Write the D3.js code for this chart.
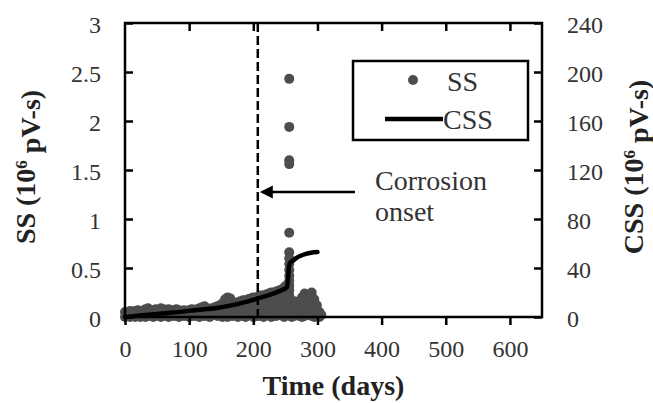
<!DOCTYPE html>
<html>
<head>
<meta charset="utf-8">
<script src="https://cdn.jsdelivr.net/npm/d3@7"></script>
<style>
  html, body { margin: 0; padding: 0; background: #fff; }
  svg text { font-family: "Liberation Serif", "Times New Roman", Times, serif; }
</style>
</head>
<body>
<svg id="chart" width="653" height="403"></svg>
<script>
// Time axis and signal axes
const timeTicks = [0, 100, 200, 300, 400, 500, 600];
const ssTicks = [0, 0.5, 1, 1.5, 2, 2.5, 3];
const cssTicks = [0, 40, 80, 120, 160, 200, 240];
const onsetDay = 207;

// Signal strength readings (day, SS in 10^6 pV-s)
const ssDay = [
  0,0, 4,4, 8,8, 12,12, 16,16, 20,20, 24,24, 28,28, 32,32, 36,36,
  40,40, 44,44, 48,48, 52,52, 56,56, 60,60, 64,64, 68,68, 72,72, 76,76,
  80,80, 84,84, 88,88, 92,92, 96,96, 100,100, 104,104, 108,108, 112,112, 116,116,
  120,120, 124,124, 128,128, 132,132, 136,136, 140,140, 144,144, 148,148,
  152,152,152, 156,156,156, 160,160,160,160, 164,164,164, 168,168,168, 172,172,172,
  176,176,176,176, 180,180,180,180, 184,184,184,184, 188,188,188,188,
  192,192,192,192, 196,196,196,196, 200,200,200,200,200, 204,204,204,204,204,
  208,208,208,208,208, 212,212,212,212,212, 216,216,216,216,216, 220,220,220,220,220,
  224,224,224,224,224, 228,228,228,228,228,228, 232,232,232,232,232,
  236,236,236,236,236,236, 240,240,240,240,240,240, 244,244,244,244,244,244,
  248,248,248,248,248,248,248, 251,251,251,251,251,251,
  256,256,256,256,256,256,256,256,256,256,256,256,256,256,256,256,256,256,
  260,260,260,260, 264,264,264,264, 268,268,268, 272,272,272,272,
  276,276,276,276,276, 280,280,280,280,280, 284,284,284,284, 288,288,288,288,
  291,291,291,291,291, 295,295,295,295, 299,299,299, 303,303, 306
];
const ssValue = [
  0.05,0.00, 0.04,0.01, 0.06,0.00, 0.05,0.02, 0.06,0.00, 0.07,0.01, 0.05,0.00, 0.06,0.02, 0.08,0.00, 0.09,0.01,
  0.07,0.02, 0.06,0.00, 0.08,0.01, 0.07,0.02, 0.09,0.00, 0.08,0.03, 0.07,0.01, 0.08,0.00, 0.07,0.03, 0.06,0.01,
  0.08,0.02, 0.07,0.00, 0.06,0.03, 0.07,0.01, 0.06,0.02, 0.07,0.00, 0.08,0.03, 0.07,0.01, 0.08,0.04, 0.09,0.00,
  0.10,0.03, 0.11,0.01, 0.09,0.04, 0.08,0.00, 0.09,0.03, 0.10,0.05, 0.11,0.01, 0.12,0.04,
  0.14,0.07,0.00, 0.18,0.10,0.03, 0.20,0.12,0.05,0.00, 0.19,0.10,0.04, 0.15,0.08,0.01, 0.14,0.09,0.03,
  0.15,0.10,0.05,0.00, 0.16,0.11,0.06,0.02, 0.17,0.12,0.07,0.01, 0.17,0.12,0.06,0.00,
  0.18,0.13,0.08,0.03, 0.19,0.14,0.09,0.04, 0.20,0.15,0.10,0.05,0.00, 0.20,0.15,0.10,0.05,0.01,
  0.21,0.16,0.11,0.06,0.01, 0.22,0.17,0.12,0.07,0.02, 0.22,0.17,0.12,0.06,0.00, 0.23,0.18,0.13,0.08,0.03,
  0.24,0.19,0.14,0.09,0.04, 0.25,0.20,0.15,0.10,0.05,0.00, 0.25,0.20,0.14,0.08,0.02,
  0.26,0.21,0.16,0.11,0.06,0.01, 0.27,0.22,0.17,0.12,0.07,0.02, 0.28,0.23,0.18,0.13,0.08,0.03,
  0.30,0.25,0.20,0.15,0.10,0.05,0.00, 0.32,0.26,0.20,0.14,0.08,0.02,
  2.43,1.94,1.60,1.56,0.86,0.66,0.60,0.54,0.48,0.42,0.37,0.32,0.27,0.22,0.17,0.12,0.07,0.02,
  0.15,0.10,0.05,0.00, 0.16,0.11,0.06,0.01, 0.14,0.09,0.04, 0.16,0.11,0.06,0.01,
  0.20,0.15,0.10,0.05,0.00, 0.24,0.18,0.12,0.06,0.01, 0.22,0.17,0.11,0.05, 0.20,0.14,0.08,0.02,
  0.25,0.19,0.13,0.07,0.01, 0.18,0.12,0.06,0.00, 0.12,0.06,0.01, 0.05,0.00, 0.02
];

// Cumulative signal strength (day, CSS in 10^6 pV-s)
const cssDay =   [0, 20, 50, 100, 150, 175, 200, 225, 245, 252, 254, 255, 257, 262, 268, 274, 282, 290, 300];
const cssValue = [0, 1, 2.5, 5, 8, 10.5, 14, 18, 22, 24, 30, 38, 44, 46, 48.5, 50, 51.5, 52.5, 53];

const FONT = "'Liberation Serif', 'Times New Roman', Times, serif";
const svg = d3.select("#chart");
const L = 125, R = 542, T = 23, B = 317;

const x = d3.scaleLinear().domain([0, 650]).range([L, R]);
const ySS = d3.scaleLinear().domain([0, 3]).range([B, T]);
const yCSS = d3.scaleLinear().domain([0, 240]).range([B, T]);

const dotColor = "#4d4d4d";

// SS scatter
svg.append("g")
  .selectAll("circle")
  .data(ssDay.map((d, i) => [d, ssValue[i]]))
  .join("circle")
  .attr("cx", d => x(d[0]))
  .attr("cy", d => ySS(d[1]))
  .attr("r", 5)
  .attr("fill", dotColor);

// CSS line
svg.append("path")
  .datum(cssDay.map((d, i) => [d, cssValue[i]]))
  .attr("fill", "none")
  .attr("stroke", "#000")
  .attr("stroke-width", 4.5)
  .attr("stroke-linejoin", "round")
  .attr("stroke-linecap", "round")
  .attr("d", d3.line().x(d => x(d[0])).y(d => yCSS(d[1])).curve(d3.curveMonotoneX));

// Frame and axes
const styleAxis = g => {
  g.attr("font-family", FONT);
  g.select(".domain").remove();
  g.selectAll(".tick line").attr("stroke", "#000").attr("stroke-width", 2.5);
  g.selectAll(".tick text").attr("fill", "#333").attr("font-size", 24).attr("font-family", FONT);
};

svg.append("g").attr("transform", `translate(0,${B})`)
  .call(d3.axisBottom(x).tickValues(timeTicks).tickSize(8).tickSizeOuter(0).tickPadding(15))
  .call(styleAxis);

svg.append("g").attr("transform", `translate(0,${T})`)
  .call(d3.axisTop(x).tickValues(timeTicks.slice(1)).tickSize(-8).tickSizeOuter(0).tickFormat(""))
  .call(styleAxis);

svg.append("g").attr("transform", `translate(${L},0)`)
  .call(d3.axisLeft(ySS).tickValues(ssTicks).tickSize(-8).tickSizeOuter(0).tickPadding(24).tickFormat(d3.format("~g")))
  .call(styleAxis)
  .call(g => g.selectAll(".tick text").attr("dy", "0.38em"));

svg.append("g").attr("transform", `translate(${R},0)`)
  .call(d3.axisRight(yCSS).tickValues(cssTicks).tickSize(-8).tickSizeOuter(0).tickPadding(25))
  .call(styleAxis)
  .call(g => g.selectAll(".tick text").attr("dy", "0.38em"));

svg.append("rect")
  .attr("x", L).attr("y", T).attr("width", R - L).attr("height", B - T)
  .attr("fill", "none").attr("stroke", "#000").attr("stroke-width", 2.5);

// Corrosion onset marker
svg.append("line")
  .attr("x1", x(onsetDay)).attr("x2", x(onsetDay))
  .attr("y1", T).attr("y2", B)
  .attr("stroke", "#000").attr("stroke-width", 2.5)
  .attr("stroke-dasharray", "9,4");

const arrowY = 192;
svg.append("line")
  .attr("x1", 355).attr("x2", x(onsetDay) + 12)
  .attr("y1", arrowY).attr("y2", arrowY)
  .attr("stroke", "#000").attr("stroke-width", 2.5);
svg.append("path")
  .attr("d", `M${x(onsetDay) + 2},${arrowY} L${x(onsetDay) + 15},${arrowY - 6.5} L${x(onsetDay) + 15},${arrowY + 6.5} Z`)
  .attr("fill", "#000");

const label = (tx, ty, size, txt) => svg.append("text")
  .attr("x", tx).attr("y", ty).attr("font-family", FONT).attr("font-size", size)
  .attr("fill", "#333").text(txt);

label(375, 190, 28, "Corrosion");
label(375, 221, 28, "onset");

// Legend
svg.append("rect")
  .attr("x", 353).attr("y", 61).attr("width", 175).attr("height", 79)
  .attr("fill", "#fff").attr("stroke", "#000").attr("stroke-width", 2.5);
svg.append("circle").attr("cx", 413).attr("cy", 80).attr("r", 5).attr("fill", dotColor);
label(447, 91, 28, "SS");
svg.append("line").attr("x1", 385).attr("x2", 443).attr("y1", 119).attr("y2", 119)
  .attr("stroke", "#000").attr("stroke-width", 4.5);
label(443, 129, 28, "CSS");

// Axis titles
svg.append("text")
  .attr("x", (L + R) / 2).attr("y", 395)
  .attr("text-anchor", "middle").attr("font-family", FONT)
  .attr("font-size", 28).attr("font-weight", "bold").attr("fill", "#222")
  .text("Time (days)");

const yTitle = (cx, name) => {
  const t = svg.append("text")
    .attr("transform", `translate(${cx},167) rotate(-90)`)
    .attr("text-anchor", "middle").attr("font-family", FONT)
    .attr("font-size", 28).attr("font-weight", "bold").attr("fill", "#222");
  t.append("tspan").text(name + " (10");
  t.append("tspan").attr("dy", "-0.45em").attr("font-size", 17).text("6");
  t.append("tspan").attr("dy", "0.45em").text(" pV-s)");
};
yTitle(35, "SS");
yTitle(643, "CSS");
</script>
</body>
</html>
